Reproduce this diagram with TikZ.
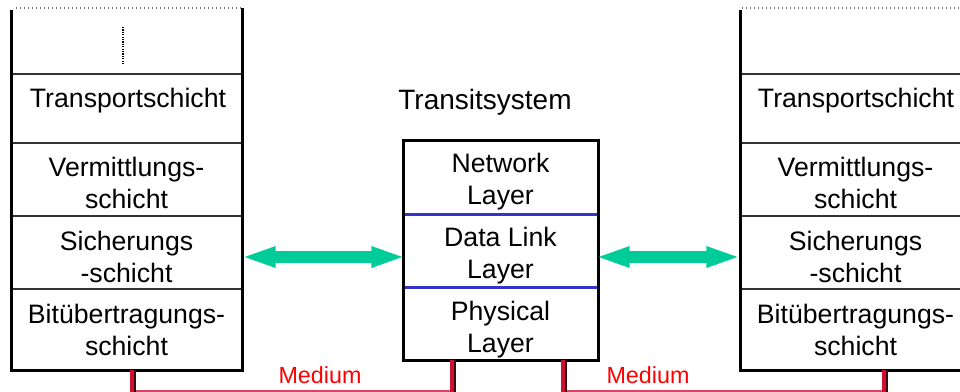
\documentclass[tikz,border=0pt]{standalone}
\usepackage{fontspec}
\setmainfont{Liberation Sans}
\usetikzlibrary{arrows.meta}
\definecolor{arrowgreen}{HTML}{00CC99}
\definecolor{layerblue}{HTML}{3333CC}
\definecolor{medred}{HTML}{CC1133}
\definecolor{medshadow}{HTML}{3A0A10}
\definecolor{medhline}{HTML}{D94466}
\definecolor{medlabel}{HTML}{FF0000}
\begin{document}
\begin{tikzpicture}[x=0.75pt,y=-0.75pt,
  outer/.style={line width=2.25pt,black},
  innerline/.style={line width=1pt,black!80},
  topdots/.style={line width=0.9pt,black!55,dash pattern=on 0.9pt off 2.1pt},
  celltext/.style={font=\fontsize{20}{24}\selectfont,align=center,inner sep=0pt},
  lcell/.style={celltext,minimum width=173.25pt},
  mcell/.style={celltext,minimum width=146.25pt},
  rcell/.style={celltext,minimum width=173.25pt},
  title/.style={font=\fontsize{21}{25}\selectfont,inner sep=0pt},
  medlbl/.style={font=\fontsize{17.5}{21}\selectfont,text=medlabel,inner sep=0pt},
  garrow/.style={arrowgreen,line width=9pt,{Triangle[length=26pt,width=14pt]}-{Triangle[length=26pt,width=14pt]}},
  medv/.style={medred,line width=3pt},
  medvshadow/.style={medshadow,line width=1.2pt},
  medh/.style={medhline,line width=1.5pt},
  blueline/.style={layerblue,line width=1.6pt}]
\useasboundingbox (0,0) rectangle (960,392);
\clip (0,0) rectangle (960,392);

% ---------- left stack ----------
\draw[topdots] (16,8) -- (243,8);
\draw[innerline] (11,74) -- (242,74);
\draw[innerline] (11,143) -- (242,143);
\draw[innerline] (11,216) -- (242,216);
\draw[innerline] (11,289) -- (242,289);
\draw[outer] (11,10) -- (11,370) -- (242,370) -- (242,8);
\draw[black,line width=0.9pt,dash pattern=on 0.9pt off 0.9pt] (123,27) -- (123,65);

\node[lcell] (ltrans) at (128,101) {Transportschicht};
\node[lcell] (lverm) at (126.5,183) {Vermittlungs-\\schicht};
\node[lcell] (lsich) at (126.5,257) {Sicherungs\\-schicht};
\node[lcell] (lbit) at (126.5,330) {Bitübertragungs-\\schicht};

% ---------- transit system ----------
\node[title] (ttl) at (485,102) {Transitsystem};
\draw[blueline] (403,214.5) -- (598,214.5);
\draw[blueline] (403,287.5) -- (598,287.5);
\draw[outer] (403,141) rectangle (598,360);
\node[mcell] (mnet) at (500.5,182) {Network\\Layer};
\node[mcell] (mdl) at (500.5,256) {Data Link\\Layer};
\node[mcell] (mphy) at (500.5,330) {Physical\\Layer};

% ---------- right stack ----------
\draw[topdots] (742,8) -- (960,8);
\draw[innerline] (740,74) -- (972,74);
\draw[innerline] (740,143) -- (972,143);
\draw[innerline] (740,216) -- (972,216);
\draw[innerline] (740,289) -- (972,289);
\draw[outer] (740,10) -- (740,370) -- (972,370);
\node[rcell] (rtrans) at (856,101) {Transportschicht};
\node[rcell] (rverm) at (855.5,183) {Vermittlungs-\\schicht};
\node[rcell] (rsich) at (855.5,257) {Sicherungs\\-schicht};
\node[rcell] (rbit) at (855.5,330) {Bitübertragungs-\\schicht};

% ---------- peer arrows ----------
\draw[garrow] ([xshift=-1pt]lsich.east) -- ([yshift=-0.75pt,xshift=2.5pt]mdl.west);
\draw[garrow] ([yshift=-0.75pt,xshift=-2.5pt]mdl.east) -- ([xshift=1pt]rsich.west);

% ---------- medium ----------
\coordinate (lport) at (132,370);
\coordinate (mport1) at (452,360);
\coordinate (mport2) at (563,360);
\coordinate (rport) at (884,370);
\draw[medh] (lport |- 0,391) -- (mport1 |- 0,391);
\draw[medh] (mport2 |- 0,391) -- (rport |- 0,391);
\foreach \p in {lport,mport1,mport2,rport}{
  \draw[medvshadow] ([xshift=2.2pt]\p) -- ([xshift=2.2pt]\p |- 0,393);
  \draw[medv] (\p) -- (\p |- 0,393);
}
\node[medlbl] (med1) at (320,375) {Medium};
\node[medlbl] (med2) at (648,375) {Medium};
\end{tikzpicture}
\end{document}
